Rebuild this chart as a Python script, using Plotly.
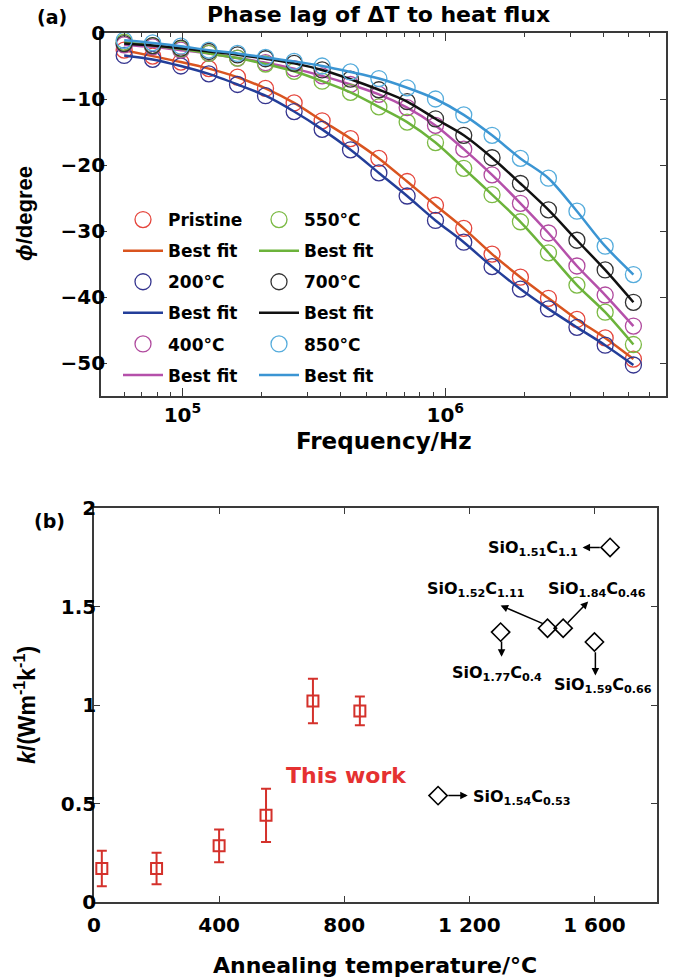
import plotly.graph_objects as go

# ---------------- Panel (a) data ----------------
freq_hz = [60000, 77000, 98600, 126000, 162000, 207000, 266000, 340000, 436000,
           559000, 716000, 918000, 1176000, 1507000, 1932000, 2470000, 3170000,
           4060000, 5200000]

phase_pristine = [-2.6, -3.5, -4.4, -5.4, -6.7, -8.4, -10.6, -13.3, -16.0, -19.0,
                  -22.5, -26.1, -29.6, -33.5, -37.0, -40.2, -43.4, -46.2, -49.4]
phase_200 = [-3.4, -4.0, -5.0, -6.2, -7.8, -9.5, -11.9, -14.6, -17.7, -21.2,
             -24.7, -28.4, -31.7, -35.4, -38.8, -41.8, -44.6, -47.3, -50.3]
phase_400 = [-1.8, -2.1, -2.6, -3.1, -3.8, -4.5, -5.4, -6.5, -7.8, -9.3,
             -11.3, -14.0, -17.6, -21.5, -25.8, -30.3, -35.3, -39.7, -44.4]
phase_550 = [-1.4, -1.9, -2.4, -3.1, -3.8, -4.7, -5.8, -7.3, -9.0, -11.2,
             -13.5, -16.6, -20.5, -24.5, -28.6, -33.3, -38.2, -42.3, -47.2]
phase_700 = [-1.6, -1.9, -2.3, -2.8, -3.3, -3.9, -4.6, -5.6, -7.0, -8.6,
             -10.4, -13.0, -15.5, -18.9, -22.8, -26.8, -31.4, -35.9, -40.8]
phase_850 = [-1.1, -1.5, -2.0, -2.6, -3.1, -3.7, -4.3, -5.0, -5.9, -6.9,
             -8.3, -10.0, -12.4, -15.5, -19.0, -22.0, -27.0, -32.3, -36.6]

series_names = ["Pristine", "200°C", "400°C", "550°C", "700°C", "850°C"]
series_values = [phase_pristine, phase_200, phase_400, phase_550, phase_700, phase_850]
fit_name = "Best fit"

# ---------------- Panel (b) data ----------------
anneal_temp = [25, 200, 400, 550, 700, 850]
k_this_work = [0.17, 0.17, 0.285, 0.44, 1.02, 0.97]
k_err = [0.09, 0.08, 0.083, 0.135, 0.113, 0.073]

lit_temp = [1650, 1450, 1500, 1300, 1600, 1100]
lit_k = [1.80, 1.39, 1.39, 1.37, 1.32, 0.54]
lit_labels = ["SiO<sub>1.51</sub>C<sub>1.1</sub>", "SiO<sub>1.52</sub>C<sub>1.11</sub>",
              "SiO<sub>1.84</sub>C<sub>0.46</sub>", "SiO<sub>1.77</sub>C<sub>0.4</sub>",
              "SiO<sub>1.59</sub>C<sub>0.66</sub>", "SiO<sub>1.54</sub>C<sub>0.53</sub>"]

# ---------------- styles ----------------
W, H = 673, 980
FONT = "DejaVu Sans"
VFONT = "Liberation Sans"
marker_colors = ["#e5463d", "#35358f", "#b04a9e", "#7cba45", "#333333", "#55acdc"]
line_colors = ["#d9541f", "#233e99", "#b550aa", "#6cb33b", "#111111", "#3b95d3"]
legend_of = ["legend", "legend", "legend", "legend2", "legend2", "legend2"]

def px_x(p):
    return p / W

def px_y(p):
    return 1 - p / H

fig = go.Figure()

for i, (name, vals) in enumerate(zip(series_names, series_values)):
    fig.add_trace(go.Scatter(
        x=freq_hz, y=vals, mode="markers", name=name,
        marker=dict(symbol="circle-open", size=16, color=marker_colors[i],
                    line=dict(width=1.3, color=marker_colors[i])),
        cliponaxis=False, legend=legend_of[i], legendgroup=f"m{i}",
        xaxis="x", yaxis="y"))
    fig.add_trace(go.Scatter(
        x=freq_hz, y=vals, mode="lines", name=fit_name,
        line=dict(color=line_colors[i], width=2.5, shape="spline", smoothing=0.8),
        legend=legend_of[i], legendgroup=f"f{i}",
        xaxis="x", yaxis="y"))

red = "#d4312b"
fig.add_trace(go.Scatter(
    x=anneal_temp, y=k_this_work, mode="markers", showlegend=False,
    marker=dict(symbol="square-open", size=11, color=red, line=dict(width=2, color=red)),
    error_y=dict(type="data", array=k_err, visible=True, color=red, thickness=2, width=5),
    xaxis="x2", yaxis="y2", cliponaxis=False))
fig.add_trace(go.Scatter(
    x=lit_temp, y=lit_k, mode="markers", showlegend=False,
    marker=dict(symbol="diamond-open", size=14, color="black", line=dict(width=1.6, color="black")),
    xaxis="x2", yaxis="y2", cliponaxis=False))

tickfont = dict(family=FONT, size=20, color="black", weight="bold")
axis_common = dict(showline=True, linecolor="#3a3a3a", linewidth=1.6, mirror="allticks",
                   ticks="inside", tickcolor="#3a3a3a", tickwidth=1.2, showgrid=False,
                   zeroline=False, automargin=False, tickfont=tickfont)

minor_freq = [6e4, 7e4, 8e4, 9e4, 2e5, 3e5, 4e5, 5e5, 6e5, 7e5, 8e5, 9e5,
              2e6, 3e6, 4e6, 5e6, 6e6]

legend_font = dict(family=FONT, size=17, color="black", weight="bold")

fig.update_layout(
    width=W, height=H, margin=dict(l=0, r=0, t=0, b=0),
    paper_bgcolor="white", plot_bgcolor="white",
    font=dict(family=FONT, size=19, color="black", weight="bold"),
    xaxis=dict(axis_common, type="log", range=[4.69, 6.84],
               domain=[px_x(101), px_x(666)], anchor="y",
               tickvals=[1e5, 1e6], ticktext=["10<sup>5</sup>", "10<sup>6</sup>"], ticklen=8,
               minor=dict(tickvals=minor_freq, ticks="inside", ticklen=4, tickcolor="#3a3a3a")),
    yaxis=dict(axis_common, range=[-55, 0], domain=[px_y(396), px_y(33)], anchor="x",
               tickvals=[0, -10, -20, -30, -40, -50], ticklen=6, ticklabelstandoff=-10),
    xaxis2=dict(axis_common, range=[0, 1800], domain=[px_x(94), px_x(657)], anchor="y2",
                tickvals=[0, 400, 800, 1200, 1600],
                ticktext=["0", "400", "800", "1 200", "1 600"], ticklen=6,
                ticklabelstandoff=4),
    yaxis2=dict(axis_common, range=[0, 2], domain=[px_y(902), px_y(508)], anchor="x2",
                tickvals=[0, 0.5, 1, 1.5, 2], ticktext=["0", "0.5", "1", "1.5", "2"], ticklen=6,
                ticklabelstandoff=-8),
    legend=dict(x=px_x(118), y=px_y(202), xanchor="left", yanchor="top",
                bgcolor="rgba(0,0,0,0)", itemwidth=40, tracegroupgap=6,
                traceorder="grouped", font=legend_font),
    legend2=dict(x=px_x(254), y=px_y(202), xanchor="left", yanchor="top",
                 bgcolor="rgba(0,0,0,0)", itemwidth=40, tracegroupgap=6,
                 traceorder="grouped", font=legend_font),
)

def paper_text(text, x, y, size, **kw):
    d = dict(text=text, x=px_x(x), y=px_y(y), xref="paper", yref="paper",
             xanchor="center", yanchor="middle", showarrow=False,
             font=dict(family=kw.pop("family", FONT), size=size, color="black", weight="bold"))
    d.update(kw)
    return d

ann = []
ann.append(paper_text("(a)", 52, 17, 19))
ann.append(paper_text("Phase lag of ΔT to heat flux", 378, 15, 22))
ann.append(paper_text("(b)", 49, 521, 19))
ann.append(paper_text("Frequency/Hz", 384, 441, 23))
ann.append(paper_text("Annealing temperature/°C", 375, 965, 22))
ann.append(paper_text("<i>ϕ</i>/degree", 25, 214, 22, family=VFONT, textangle=-90))
ann.append(paper_text("<i>k</i>/(Wm<sup>-1</sup>k<sup>-1</sup>)", 25, 705, 23,
                      family=VFONT, textangle=-90))
ann.append(dict(text="This work", x=808, y=0.64, xref="x2", yref="y2", showarrow=False,
                font=dict(family=FONT, size=22, color="#e53131", weight="bold")))

# literature labels: (x, y, xanchor)
label_pos = [(1555, 1.795, "right"), (1222, 1.585, "center"), (1608, 1.585, "center"),
             (1288, 1.16, "center"), (1627, 1.10, "center"), (1205, 0.53, "left")]
for txt, (lx, ly, xa) in zip(lit_labels, label_pos):
    ann.append(dict(text=txt, x=lx, y=ly, xref="x2", yref="y2", xanchor=xa,
                    showarrow=False, font=dict(family=FONT, size=16, color="black", weight="bold")))

# arrows: (tail_x, tail_y, head_x, head_y)
arrows = [(1622, 1.80, 1562, 1.80), (1440, 1.41, 1300, 1.505), (1510, 1.41, 1580, 1.525),
          (1303, 1.33, 1303, 1.245), (1603, 1.275, 1603, 1.15), (1128, 0.54, 1195, 0.54)]
for tx, ty, hx, hy in arrows:
    ann.append(dict(text="", x=hx, y=hy, ax=tx, ay=ty, xref="x2", yref="y2",
                    axref="x2", ayref="y2", showarrow=True, arrowhead=2, arrowsize=1,
                    arrowwidth=1.5, arrowcolor="black"))

fig.update_layout(annotations=ann)
fig.write_html("out.html", config={"displayModeBar": False},
               post_script="document.body.style.margin='0';")
